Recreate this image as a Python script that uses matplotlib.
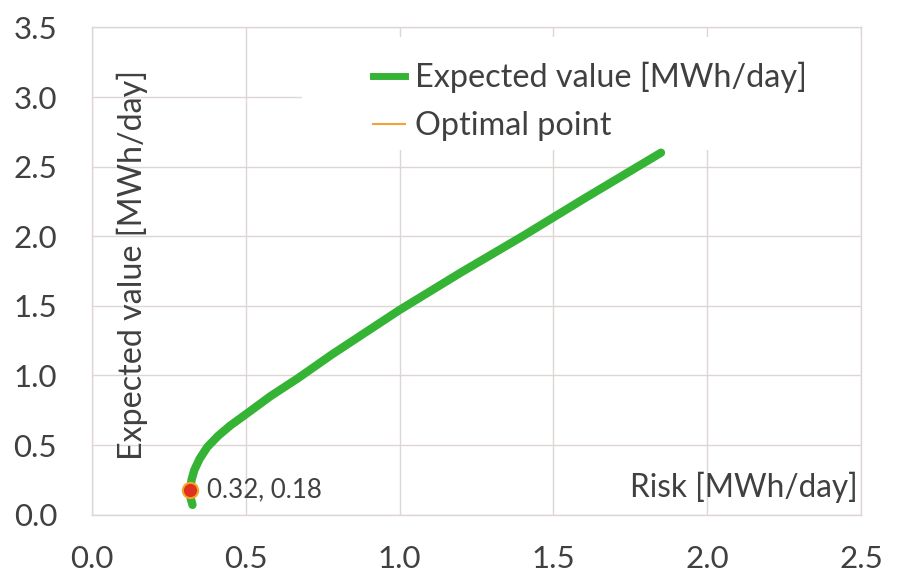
import matplotlib.pyplot as plt
from matplotlib.lines import Line2D
from matplotlib.patches import Rectangle

# efficient frontier
risk = [0.327, 0.321, 0.320, 0.324, 0.333, 0.350, 0.375, 0.41, 0.45, 0.50, 0.58, 0.67,
        0.78, 0.89, 1.00, 1.20, 1.40, 1.60, 1.85]
expected = [0.07, 0.12, 0.18, 0.25, 0.32, 0.40, 0.485, 0.565, 0.64, 0.72, 0.85, 0.98,
            1.15, 1.31, 1.47, 1.74, 2.00, 2.27, 2.60]

opt_risk = [0.32]
opt_expected = [0.18]
opt_label = "0.32, 0.18"

x_ticks = [0.0, 0.5, 1.0, 1.5, 2.0, 2.5]
y_ticks = [0.0, 0.5, 1.0, 1.5, 2.0, 2.5, 3.0, 3.5]

txt = '#404040'
grid_c = '#ddd6d3'
green = '#34b334'
orange = '#f2a33a'

plt.rcParams['font.family'] = ['Lato', 'DejaVu Sans']

fig = plt.figure(figsize=(8.99, 5.75), dpi=100)
ax = fig.add_axes([0.1022, 0.1050, 0.8555, 0.8473])

ax.set_xlim(0, 2.5)
ax.set_ylim(0, 3.5)
ax.set_xticks(x_ticks)
ax.set_yticks(y_ticks)
ax.set_xticklabels([f"{v:.1f}" for v in x_ticks])
ax.set_yticklabels([f"{v:.1f}" for v in y_ticks])
ax.tick_params(length=0, labelsize=22.5, colors=txt)
ax.tick_params(axis='y', pad=25)
ax.tick_params(axis='x', pad=22)
ax.set_axisbelow(True)
ax.grid(True, color=grid_c, lw=1)
for s in ax.spines.values():
    s.set_color(grid_c)
    s.set_linewidth(1)

# white box behind the legend (hides grid like the original)
ax.add_patch(Rectangle((0.273, 0.748), 0.727, 0.232, transform=ax.transAxes,
                       facecolor='white', edgecolor='none', zorder=1))

ax.plot(risk, expected, color=green, lw=6, solid_capstyle='round',
        solid_joinstyle='round', zorder=3)
ax.plot(opt_risk, opt_expected, 'o', ms=11, mfc='#e0301e', mec='#f5a42a', mew=1.5, zorder=4)
ax.annotate(opt_label, (opt_risk[0], opt_expected[0]), xytext=(12, 0),
            textcoords='offset points', va='center', ha='left', fontsize=18.6, color=txt)

# axis titles sit inside the plot area
ax.text(0.053, 0.513, "Expected value [MWh/day]", rotation=90, transform=ax.transAxes,
        ha='center', va='center', fontsize=23.2, color=txt)
ax.text(0.996, 0.036, "Risk [MWh/day]", transform=ax.transAxes,
        ha='right', va='baseline', fontsize=22.7, color=txt)

handles = [Line2D([], [], color=green, lw=5),
           Line2D([], [], color=orange, lw=1.5)]
leg = ax.legend(handles, ["Expected value [MWh/day]", "Optimal point"],
                loc='upper left', bbox_to_anchor=(0.3655, 0.929), frameon=False,
                fontsize=23.3, handlelength=1.0, handletextpad=0.3,
                labelspacing=0.55, borderaxespad=0, borderpad=0)
for t in leg.get_texts():
    t.set_color(txt)

plt.savefig("out.png", dpi=100)
